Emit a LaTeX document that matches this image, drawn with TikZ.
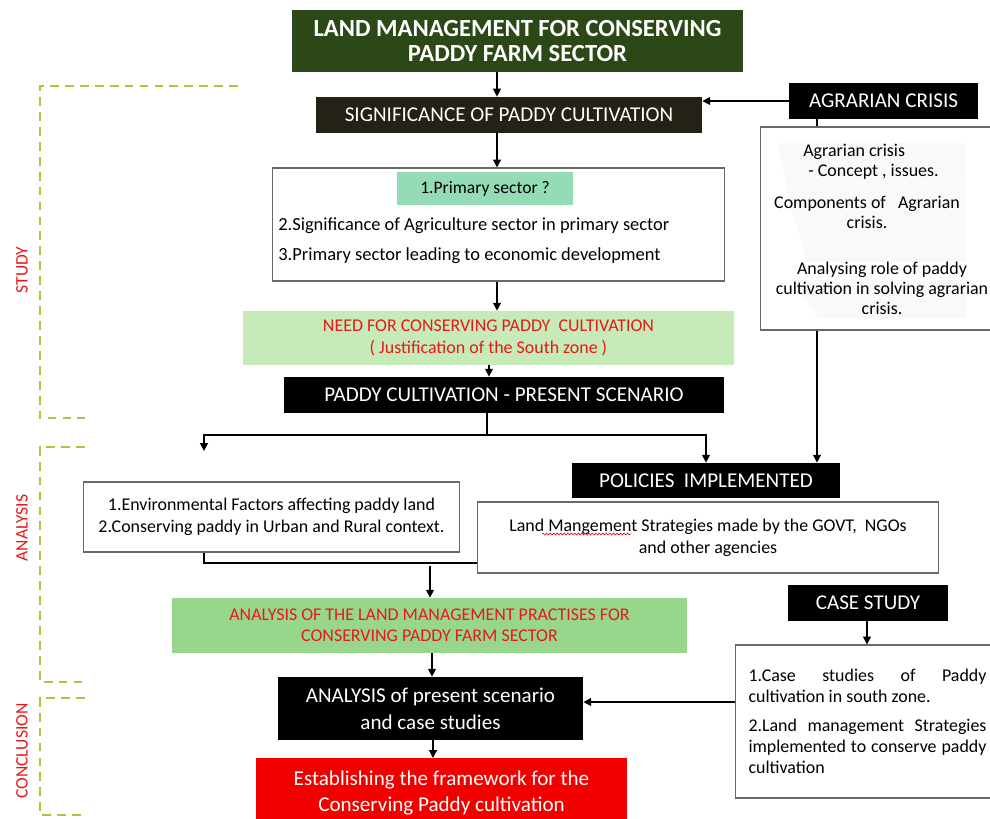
\documentclass[tikz,border=0pt]{standalone}
\usepackage{fontspec}
\setmainfont{Carlito}
\usetikzlibrary{arrows.meta, positioning, decorations.pathmorphing}

\definecolor{titlegreen}{RGB}{44,72,22}
\definecolor{sigdark}{RGB}{36,33,22}
\definecolor{mint}{RGB}{148,220,182}
\definecolor{palegreen}{RGB}{198,234,184}
\definecolor{leafgreen}{RGB}{152,214,140}
\definecolor{alertred}{RGB}{232,24,24}
\definecolor{boxred}{RGB}{242,0,0}
\definecolor{edgegray}{RGB}{105,105,105}
\definecolor{phaseline}{RGB}{172,196,62}

\tikzset{
  darkbox/.style={fill=black, text=white, inner sep=0pt, align=center,
                  font=\fontsize{12}{13}\selectfont},
  plainbox/.style={draw=edgegray, fill=white, line width=0.6pt, inner sep=0pt},
  bodytext/.style={font=\fontsize{10.2}{11.3}\selectfont, inner sep=0pt},
  flow/.style={-{Triangle[length=4.5pt,width=4.5pt]}, line width=0.7pt},
  link/.style={line width=0.7pt},
  phase/.style={draw=phaseline, line width=1.1pt, dash pattern=on 5pt off 3.5pt},
  phaselabel/.style={rotate=90, text=alertred, font=\fontsize{10}{11}\selectfont},
}

\begin{document}
\begin{tikzpicture}[x=0.02cm, y=-0.02cm]
\useasboundingbox (0,0) rectangle (990,818);

% -- Phase brackets on the left ---------------------------------------------
\draw[phase] (238,86) -- (40,86) -- (40,418) -- (85,418);
\draw[phase] (85,447) -- (40,447) -- (40,682) -- (85,682);
\draw[phase] (85,698) -- (40,698) -- (40,815) -- (85,815);
\node[phaselabel] (study) at (22,270) {STUDY};
\node[phaselabel] (analysis) at (22,528) {ANALYSIS};
\node[phaselabel] (conclusion) at (22,751) {CONCLUSION};

% -- Study ---------------------------------------------------------------------
\node[darkbox, fill=titlegreen, minimum width=9.02cm, minimum height=1.24cm,
      font=\fontsize{14}{14.7}\selectfont\bfseries] (title) at (517.5,41)
  {LAND MANAGEMENT FOR CONSERVING\\PADDY FARM SECTOR};
\node[darkbox, fill=sigdark, minimum width=7.72cm, minimum height=0.72cm] (sig) at (509,115)
  {SIGNIFICANCE OF PADDY CULTIVATION};
\node[darkbox, minimum width=3.78cm, minimum height=0.72cm] (crisis) at (883.5,101)
  {AGRARIAN CRISIS};

% agrarian crisis notes
\node[plainbox, minimum width=4.7cm, minimum height=4.06cm] (crisisbox) at (877.5,228.5) {};
\fill[gray!5] (778,143) -- (965,143) -- (966,262) -- (808,262) -- (790,205) -- cycle;
\fill[gray!5] (792,280) -- (966,280) -- (966,318) -- (818,318) -- cycle;
\node[bodytext, anchor=west, align=left] (crisisA) at (803,162)
  {Agrarian crisis\\\hspace*{0.1cm}- Concept , issues.};
\node[bodytext, align=center] (crisisB) at (867,212)
  {Components of \ \ Agrarian\\crisis.};
\node[bodytext, align=center] (crisisC) at (882,288)
  {Analysing role of paddy\\cultivation in solving agrarian\\crisis.};

\node[plainbox, minimum width=9.06cm, minimum height=2.26cm] (primary) at (498.5,224.5) {};
\node[fill=mint, minimum width=3.52cm, minimum height=0.66cm, inner sep=0pt,
      font=\fontsize{10}{11}\selectfont] (primaryA) at (485,188.5) {1.Primary sector ?};
\node[bodytext, font=\fontsize{10.5}{11}\selectfont, anchor=west] (primaryB) at (278,226)
  {2.Significance of Agriculture sector in primary sector};
\node[bodytext, font=\fontsize{10.5}{11}\selectfont, anchor=west] (primaryC) at (278,256)
  {3.Primary sector leading to economic development};

\node[fill=palegreen, text=alertred, minimum width=9.82cm, minimum height=1.08cm,
      inner sep=0pt, align=center, font=\fontsize{10.2}{12.4}\selectfont] (need) at (488.5,338)
  {NEED FOR CONSERVING PADDY \ CULTIVATION\\( Justification of the South zone )};
\node[darkbox, minimum width=8.8cm, minimum height=0.72cm] (present) at (504,395)
  {PADDY CULTIVATION - PRESENT SCENARIO};

% -- Analysis ------------------------------------------------------------------
\node[plainbox, minimum width=7.54cm, minimum height=1.4cm, align=center,
      font=\fontsize{10.2}{12.4}\selectfont] (env) at (271.5,517)
  {1.Environmental Factors affecting paddy land\\2.Conserving paddy in Urban and Rural context.};
\node[darkbox, minimum width=5.36cm, minimum height=0.7cm] (policies) at (706,480.5)
  {POLICIES \ IMPLEMENTED};
\node[plainbox, minimum width=9.24cm, minimum height=1.42cm, align=center,
      font=\fontsize{10.2}{12.4}\selectfont] (land) at (708,537.5)
  {Land Mangement Strategies made by the GOVT, \ NGOs\\and other agencies};
\draw[alertred, line width=0.4pt, decorate,
      decoration={snake, amplitude=0.5pt, segment length=2pt}] (542,534) -- (631,534);

\node[fill=leafgreen, text=alertred, minimum width=10.3cm, minimum height=1.1cm,
      inner sep=0pt, align=center, font=\fontsize{10.2}{12}\selectfont] (practices) at (429.5,625.5)
  {ANALYSIS OF THE LAND MANAGEMENT PRACTISES FOR\\CONSERVING PADDY FARM SECTOR};

\node[darkbox, minimum width=3.2cm, minimum height=0.72cm] (casestudy) at (868,603) {CASE STUDY};
\node[plainbox, minimum width=5.3cm, minimum height=3.06cm, text width=4.76cm,
      align=justify, font=\fontsize{10.2}{11.9}\selectfont] (casebox) at (867.5,721.5)
  {1.Case studies of Paddy\linebreak cultivation in south zone.\par\vspace{4.5pt}
   2.Land management Strategies\linebreak implemented to conserve paddy\linebreak cultivation\par\vspace{11pt}};

% -- Conclusion ----------------------------------------------------------------
\node[darkbox, minimum width=6.1cm, minimum height=1.26cm,
      font=\fontsize{12}{15.3}\selectfont] (scenario) at (430.5,708.5)
  {ANALYSIS of present scenario\\and case studies};
\node[darkbox, fill=boxred, minimum width=7.42cm, minimum height=1.4cm, anchor=north,
      font=\fontsize{12}{14.7}\selectfont] (framework) at (441.5,758)
  {Establishing the framework for the\\Conserving Paddy cultivation};

% -- Connectors ----------------------------------------------------------------
\coordinate (spine) at (497,0);
\coordinate (drop) at (817,0);
\coordinate (split) at (487,435);
\coordinate (envtip) at (204,451);
\coordinate (join) at (204,563);
\coordinate (merge) at (430,566);
\coordinate (feed) at (0,702);

\draw[flow] (title.south -| spine) -- (sig.north -| spine);
\draw[flow] (crisis.west) -- (crisis.west -| sig.east);
\draw[link] (crisis.south -| drop) -- (crisisbox.north -| drop);
\draw[flow] (crisisbox.south -| drop) -- (policies.north -| drop);
\draw[flow] (sig.south -| spine) -- (primary.north -| spine);
\draw[flow] (primary.south -| spine) -- (need.north -| spine);
\draw[flow] (need.south -| 489,0) -- (present.north -| 489,0);
\draw[link] (present.south -| split) -- (split);
\draw[flow] (split) -| (envtip);
\draw[flow] (split) -| (policies.north);
\draw[link] (env.south -| join) -- (join) -- (join -| land.west);
\draw[flow] (merge) -- (practices.north -| merge);
\draw[flow] (practices.south -| 432,0) -- (scenario.north -| 432,0);
\draw[flow] (scenario.south -| 433,0) -- (framework.north -| 433,0);
\draw[flow] (casestudy.south -| 867,0) -- (casebox.north -| 867,0);
\draw[flow] (casebox.west |- feed) -- (scenario.east |- feed);

\end{tikzpicture}
\end{document}
